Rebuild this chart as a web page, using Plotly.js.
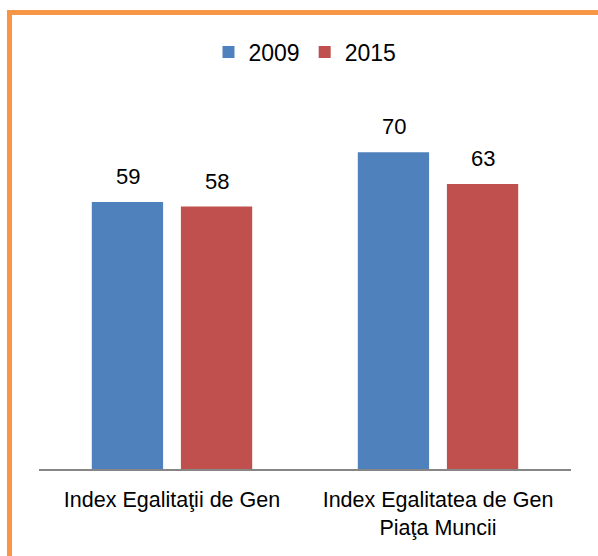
<!DOCTYPE html>
<html>
<head>
<meta charset="utf-8">
<script src="https://cdn.plot.ly/plotly-3.0.1.min.js"></script>
<style>
  html, body { margin: 0; padding: 0; background: #fff; }
  #chart { width: 598px; height: 556px; }
</style>
</head>
<body>
<div id="chart"></div>
<script>
const categories = ["Index Egalitaţii de Gen", "Index Egalitatea de Gen<br>Piaţa Muncii"];
const seriesNames = ["2009", "2015"];
const values2009 = [59, 70];
const values2015 = [58, 63];
const seriesColors = ["#4F81BD", "#C0504D"];

const FONT = "Liberation Sans, Arial, sans-serif";

const traces = [
  { type: "bar", name: seriesNames[0], x: categories, y: values2009,
    marker: { color: seriesColors[0] }, hoverinfo: "none" },
  { type: "bar", name: seriesNames[1], x: categories, y: values2015,
    marker: { color: seriesColors[1] }, hoverinfo: "none" }
];

// value labels above bars (offset to each bar within the group)
const annotations = [];
const offsets = [-44.5, 44.5];
[values2009, values2015].forEach((vals, s) => {
  vals.forEach((v, i) => {
    annotations.push({
      x: categories[i], y: v, xref: "x", yref: "y",
      text: String(v), showarrow: false,
      xanchor: "center", yanchor: "bottom",
      xshift: offsets[s], yshift: 11,
      font: { family: FONT, size: 22, color: "#000" }
    });
  });
});

const orange = "#F79646";
const layout = {
  width: 598, height: 556,
  margin: { l: 39, r: 27, t: 107, b: 87 },
  paper_bgcolor: "#fff", plot_bgcolor: "#fff",
  barmode: "group",
  bargap: 0.33,
  bargroupgap: 0.2,
  showlegend: true,
  legend: {
    orientation: "h", x: 0.5, xanchor: "center", y: 1.152, yanchor: "middle",
    font: { family: FONT, size: 23, color: "#000" },
    itemwidth: 30, traceorder: "normal"
  },
  xaxis: {
    type: "category",
    showline: true, linecolor: "#868686", linewidth: 1.5,
    ticks: "", showgrid: false, zeroline: false,
    tickfont: { family: FONT, size: 21.5, color: "#000" },
    ticklabelstandoff: 11,
    fixedrange: true
  },
  yaxis: {
    range: [0, 80], visible: false, showgrid: false, zeroline: false,
    fixedrange: true
  },
  annotations: annotations,
  shapes: [
    { type: "line", xref: "paper", yref: "paper",
      x0: -0.0555, x1: 1.2, y0: 1.261, y1: 1.261,
      line: { color: orange, width: 5 } },
    { type: "line", xref: "paper", yref: "paper",
      x0: -0.0555, x1: -0.0555, y0: 1.268, y1: -0.3,
      line: { color: orange, width: 5 } }
  ]
};

Plotly.newPlot("chart", traces, layout, { displayModeBar: false, staticPlot: true });
</script>
</body>
</html>
